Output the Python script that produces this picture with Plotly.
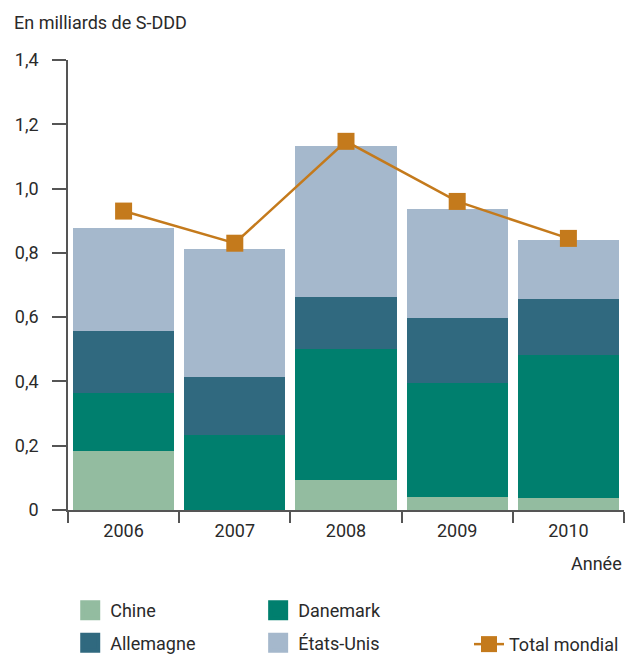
import plotly.graph_objects as go

years = ["2006", "2007", "2008", "2009", "2010"]
chine = [0.184, 0.0, 0.093, 0.040, 0.038]
danemark = [0.179, 0.233, 0.408, 0.355, 0.444]
allemagne = [0.194, 0.181, 0.162, 0.202, 0.174]
etats_unis = [0.319, 0.398, 0.470, 0.340, 0.184]
total_mondial = [0.930, 0.830, 1.147, 0.960, 0.845]

y_tickvals = [0, 0.2, 0.4, 0.6, 0.8, 1.0, 1.2, 1.4]
y_ticktext = ["0", "0,2", "0,4", "0,6", "0,8", "1,0", "1,2", "1,4"]

FONT = "Roboto, sans-serif"
TXT = "#2a2a2a"
AX = "#555555"

series = [
    ("Chine", chine, "#93BCA0", "legend"),
    ("Danemark", danemark, "#007F6E", "legend2"),
    ("Allemagne", allemagne, "#30697F", "legend"),
    ("États-Unis", etats_unis, "#A5B8CC", "legend2"),
]

fig = go.Figure()
for name, vals, col, _ in series:
    fig.add_trace(go.Bar(x=years, y=vals, name=name, marker=dict(color=col, line=dict(width=0)),
                         showlegend=False))

fig.add_trace(go.Scatter(x=years, y=total_mondial, name="Total mondial", mode="lines+markers",
                         line=dict(color="#C47A1C", width=2.5),
                         marker=dict(symbol="square", size=17, color="#C47A1C"),
                         legend="legend3", legendgroup="t"))

# legend entries (swatches)
order = {"Chine": 1, "Allemagne": 2, "Danemark": 1, "États-Unis": 2}
for name, vals, col, lg in series:
    fig.add_trace(go.Scatter(x=[None], y=[None], mode="markers", name=name,
                             marker=dict(symbol="square", size=16, color=col,
                                         line=dict(color=col, width=4)),
                             legend=lg, legendgroup=name, legendrank=order[name]))

legend_common = dict(orientation="v", font=dict(family=FONT, size=18, color=TXT),
                     bgcolor="rgba(0,0,0,0)", borderwidth=0, tracegroupgap=6,
                     yanchor="top")

fig.update_layout(
    width=625, height=669,
    margin=dict(l=68, r=1, t=60, b=159),
    barmode="stack", bargap=0.09,
    plot_bgcolor="white", paper_bgcolor="white",
    separators=", ",
    font=dict(family=FONT, size=18, color=TXT),
    legend=dict(x=0.004, y=-0.1826, xanchor="left", **legend_common),
    legend2=dict(x=0.342, y=-0.1826, xanchor="left", **legend_common),
    legend3=dict(x=1.0, y=-0.2576, xanchor="right", **legend_common),
    xaxis=dict(showline=True, linecolor=AX, linewidth=1.5, ticks="outside", tickson="boundaries",
               ticklen=11, tickcolor=AX, tickwidth=1.5, showgrid=False, ticklabelstandoff=4,
               tickfont=dict(family=FONT, size=18, color=TXT)),
    yaxis=dict(range=[0, 1.4], tickvals=y_tickvals, ticktext=y_ticktext, showline=True,
               linecolor=AX, linewidth=1.5, ticks="outside", ticklen=14, tickcolor=AX,
               tickwidth=1.5, showgrid=False, zeroline=False, ticklabelstandoff=10,
               tickfont=dict(family=FONT, size=18, color=TXT)),
    annotations=[
        dict(text="En milliards de S-DDD", xref="paper", yref="paper", x=-0.1, y=1.084,
             xanchor="left", yanchor="middle", showarrow=False,
             font=dict(family=FONT, size=18, color=TXT)),
        dict(text="Année", xref="paper", yref="paper", x=1.0, y=-0.118,
             xanchor="right", yanchor="middle", showarrow=False,
             font=dict(family=FONT, size=18, color=TXT)),
    ],
)

fig.write_html("out.html", config={"displayModeBar": False},
               post_script="document.body.style.margin='0';document.body.style.overflow='hidden';")
